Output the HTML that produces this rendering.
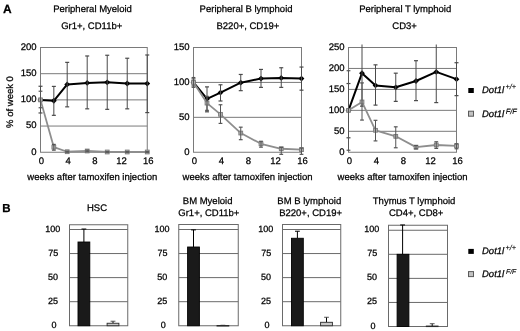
<!DOCTYPE html>
<html><head><meta charset="utf-8"><style>
html,body{margin:0;padding:0;background:#fff;}
svg{display:block;font-family:"Liberation Sans", sans-serif;will-change:transform;text-rendering:geometricPrecision;}
text{stroke:#000;stroke-width:0.25px;}
</style></head><body>
<svg width="520" height="331" viewBox="0 0 520 331">
<rect width="520" height="331" fill="#fff"/>
<text x="3" y="13.4" font-size="12" text-anchor="start" font-weight="bold" font-style="normal" fill="#000" >A</text>
<text x="2.3" y="212.2" font-size="11.5" text-anchor="start" font-weight="bold" font-style="normal" fill="#000" >B</text>
<text x="0" y="0" font-size="9.5" text-anchor="middle" transform="translate(12.8,102) rotate(-90)">% of week 0</text>
<text x="53.2" y="12.3" font-size="9.5" text-anchor="start" font-weight="normal" font-style="normal" fill="#000" >Peripheral Myeloid</text>
<text x="61.2" y="29.2" font-size="9.5" text-anchor="start" font-weight="normal" font-style="normal" fill="#000" >Gr1+, CD11b+</text>
<line x1="40.5" y1="126.06" x2="147.25" y2="126.06" stroke="#7a7a7a" stroke-width="1" />
<line x1="40.5" y1="99.88" x2="147.25" y2="99.88" stroke="#7a7a7a" stroke-width="1" />
<line x1="40.5" y1="73.69" x2="147.25" y2="73.69" stroke="#7a7a7a" stroke-width="1" />
<rect x="40.5" y="47.5" width="106.75" height="104.75" fill="none" stroke="#7a7a7a" stroke-width="1"/>
<text x="36.5" y="154.55" font-size="9.5" text-anchor="end" font-weight="normal" font-style="normal" fill="#000" >0</text>
<text x="36.5" y="128.36" font-size="9.5" text-anchor="end" font-weight="normal" font-style="normal" fill="#000" >50</text>
<text x="36.5" y="102.17" font-size="9.5" text-anchor="end" font-weight="normal" font-style="normal" fill="#000" >100</text>
<text x="36.5" y="75.99" font-size="9.5" text-anchor="end" font-weight="normal" font-style="normal" fill="#000" >150</text>
<text x="36.5" y="49.8" font-size="9.5" text-anchor="end" font-weight="normal" font-style="normal" fill="#000" >200</text>
<text x="41.5" y="163.6" font-size="9.5" text-anchor="middle" font-weight="normal" font-style="normal" fill="#000" >0</text>
<text x="68.19" y="163.6" font-size="9.5" text-anchor="middle" font-weight="normal" font-style="normal" fill="#000" >4</text>
<text x="94.88" y="163.6" font-size="9.5" text-anchor="middle" font-weight="normal" font-style="normal" fill="#000" >8</text>
<text x="121.56" y="163.6" font-size="9.5" text-anchor="middle" font-weight="normal" font-style="normal" fill="#000" >12</text>
<text x="148.25" y="163.6" font-size="9.5" text-anchor="middle" font-weight="normal" font-style="normal" fill="#000" >16</text>
<text x="27.3" y="180" font-size="9.5" text-anchor="start" font-weight="normal" font-style="normal" fill="#000" >weeks after tamoxifen injection</text>
<polyline points="40.5,99.88 53.84,100.77 67.19,84.42 87.2,82.91 107.22,82.33 127.23,83.48 147.25,83.53" fill="none" stroke="#000" stroke-width="2" stroke-linejoin="round"/>
<path d="M40.5,96.97 L43.4,99.88 L40.5,102.78 L37.6,99.88Z" fill="#000"/>
<path d="M53.84,97.87 L56.74,100.77 L53.84,103.67 L50.94,100.77Z" fill="#000"/>
<path d="M67.19,81.52 L70.09,84.42 L67.19,87.32 L64.29,84.42Z" fill="#000"/>
<path d="M87.2,80.01 L90.1,82.91 L87.2,85.81 L84.3,82.91Z" fill="#000"/>
<path d="M107.22,79.43 L110.12,82.33 L107.22,85.23 L104.32,82.33Z" fill="#000"/>
<path d="M127.23,80.58 L130.13,83.48 L127.23,86.38 L124.33,83.48Z" fill="#000"/>
<path d="M147.25,80.63 L150.15,83.53 L147.25,86.43 L144.35,83.53Z" fill="#000"/>
<line x1="40.5" y1="86.26" x2="40.5" y2="112.97" stroke="#4a4a4a" stroke-width="1" />
<line x1="38.5" y1="86.26" x2="42.5" y2="86.26" stroke="#4a4a4a" stroke-width="1.2" />
<line x1="38.5" y1="112.97" x2="42.5" y2="112.97" stroke="#4a4a4a" stroke-width="1.2" />
<line x1="53.84" y1="86.41" x2="53.84" y2="115.33" stroke="#4a4a4a" stroke-width="1" />
<line x1="51.84" y1="86.41" x2="55.84" y2="86.41" stroke="#4a4a4a" stroke-width="1.2" />
<line x1="51.84" y1="115.33" x2="55.84" y2="115.33" stroke="#4a4a4a" stroke-width="1.2" />
<line x1="67.19" y1="62.37" x2="67.19" y2="106.84" stroke="#4a4a4a" stroke-width="1" />
<line x1="65.19" y1="62.37" x2="69.19" y2="62.37" stroke="#4a4a4a" stroke-width="1.2" />
<line x1="65.19" y1="106.84" x2="69.19" y2="106.84" stroke="#4a4a4a" stroke-width="1.2" />
<line x1="87.2" y1="55.98" x2="87.2" y2="108.83" stroke="#4a4a4a" stroke-width="1" />
<line x1="85.2" y1="55.98" x2="89.2" y2="55.98" stroke="#4a4a4a" stroke-width="1.2" />
<line x1="85.2" y1="108.83" x2="89.2" y2="108.83" stroke="#4a4a4a" stroke-width="1.2" />
<line x1="107.22" y1="55.25" x2="107.22" y2="109.35" stroke="#4a4a4a" stroke-width="1" />
<line x1="105.22" y1="55.25" x2="109.22" y2="55.25" stroke="#4a4a4a" stroke-width="1.2" />
<line x1="105.22" y1="109.35" x2="109.22" y2="109.35" stroke="#4a4a4a" stroke-width="1.2" />
<line x1="127.23" y1="58.24" x2="127.23" y2="108.83" stroke="#4a4a4a" stroke-width="1" />
<line x1="125.23" y1="58.24" x2="129.23" y2="58.24" stroke="#4a4a4a" stroke-width="1.2" />
<line x1="125.23" y1="108.83" x2="129.23" y2="108.83" stroke="#4a4a4a" stroke-width="1.2" />
<line x1="147.25" y1="54.99" x2="147.25" y2="112.6" stroke="#4a4a4a" stroke-width="1" />
<line x1="145.25" y1="54.99" x2="149.25" y2="54.99" stroke="#4a4a4a" stroke-width="1.2" />
<line x1="145.25" y1="112.6" x2="149.25" y2="112.6" stroke="#4a4a4a" stroke-width="1.2" />
<polyline points="40.5,99.88 53.84,147.17 67.19,151.73 87.2,150.99 107.22,151.99 127.23,151.99 147.25,151.99" fill="none" stroke="#8e8e8e" stroke-width="1.8" stroke-linejoin="round"/>
<rect x="38.6" y="97.97" width="3.8" height="3.8" fill="#b0b0b0" stroke="#7a7a7a" stroke-width="0.9"/>
<rect x="51.94" y="145.27" width="3.8" height="3.8" fill="#b0b0b0" stroke="#7a7a7a" stroke-width="0.9"/>
<rect x="65.29" y="149.83" width="3.8" height="3.8" fill="#b0b0b0" stroke="#7a7a7a" stroke-width="0.9"/>
<rect x="85.3" y="149.09" width="3.8" height="3.8" fill="#b0b0b0" stroke="#7a7a7a" stroke-width="0.9"/>
<rect x="105.32" y="150.09" width="3.8" height="3.8" fill="#b0b0b0" stroke="#7a7a7a" stroke-width="0.9"/>
<rect x="125.33" y="150.09" width="3.8" height="3.8" fill="#b0b0b0" stroke="#7a7a7a" stroke-width="0.9"/>
<rect x="145.35" y="150.09" width="3.8" height="3.8" fill="#b0b0b0" stroke="#7a7a7a" stroke-width="0.9"/>
<line x1="40.5" y1="91.23" x2="40.5" y2="107.73" stroke="#555" stroke-width="1" />
<line x1="38.6" y1="91.23" x2="42.4" y2="91.23" stroke="#555" stroke-width="1.2" />
<line x1="38.6" y1="107.73" x2="42.4" y2="107.73" stroke="#555" stroke-width="1.2" />
<line x1="53.84" y1="144.39" x2="53.84" y2="150.16" stroke="#555" stroke-width="1" />
<line x1="51.94" y1="144.39" x2="55.74" y2="144.39" stroke="#555" stroke-width="1.2" />
<line x1="51.94" y1="150.16" x2="55.74" y2="150.16" stroke="#555" stroke-width="1.2" />
<line x1="67.19" y1="151.2" x2="67.19" y2="152.25" stroke="#555" stroke-width="1" />
<line x1="65.29" y1="151.2" x2="69.09" y2="151.2" stroke="#555" stroke-width="1.2" />
<line x1="65.29" y1="152.25" x2="69.09" y2="152.25" stroke="#555" stroke-width="1.2" />
<line x1="87.2" y1="150.16" x2="87.2" y2="151.73" stroke="#555" stroke-width="1" />
<line x1="85.3" y1="150.16" x2="89.1" y2="150.16" stroke="#555" stroke-width="1.2" />
<line x1="85.3" y1="151.73" x2="89.1" y2="151.73" stroke="#555" stroke-width="1.2" />
<line x1="107.22" y1="151.73" x2="107.22" y2="152.25" stroke="#555" stroke-width="1" />
<line x1="105.32" y1="151.73" x2="109.12" y2="151.73" stroke="#555" stroke-width="1.2" />
<line x1="105.32" y1="152.25" x2="109.12" y2="152.25" stroke="#555" stroke-width="1.2" />
<line x1="127.23" y1="151.73" x2="127.23" y2="152.25" stroke="#555" stroke-width="1" />
<line x1="125.33" y1="151.73" x2="129.13" y2="151.73" stroke="#555" stroke-width="1.2" />
<line x1="125.33" y1="152.25" x2="129.13" y2="152.25" stroke="#555" stroke-width="1.2" />
<line x1="147.25" y1="151.73" x2="147.25" y2="152.25" stroke="#555" stroke-width="1" />
<line x1="145.35" y1="151.73" x2="149.15" y2="151.73" stroke="#555" stroke-width="1.2" />
<line x1="145.35" y1="152.25" x2="149.15" y2="152.25" stroke="#555" stroke-width="1.2" />
<text x="199.6" y="12.3" font-size="9.5" text-anchor="start" font-weight="normal" font-style="normal" fill="#000" >Peripheral B lymphoid</text>
<text x="216.5" y="29.2" font-size="9.5" text-anchor="start" font-weight="normal" font-style="normal" fill="#000" >B220+, CD19+</text>
<line x1="193.5" y1="117.33" x2="301.5" y2="117.33" stroke="#7a7a7a" stroke-width="1" />
<line x1="193.5" y1="82.42" x2="301.5" y2="82.42" stroke="#7a7a7a" stroke-width="1" />
<rect x="193.5" y="47.5" width="108" height="104.75" fill="none" stroke="#7a7a7a" stroke-width="1"/>
<text x="189.5" y="154.55" font-size="9.5" text-anchor="end" font-weight="normal" font-style="normal" fill="#000" >0</text>
<text x="189.5" y="119.63" font-size="9.5" text-anchor="end" font-weight="normal" font-style="normal" fill="#000" >50</text>
<text x="189.5" y="84.72" font-size="9.5" text-anchor="end" font-weight="normal" font-style="normal" fill="#000" >100</text>
<text x="189.5" y="49.8" font-size="9.5" text-anchor="end" font-weight="normal" font-style="normal" fill="#000" >150</text>
<text x="194.5" y="163.6" font-size="9.5" text-anchor="middle" font-weight="normal" font-style="normal" fill="#000" >0</text>
<text x="221.5" y="163.6" font-size="9.5" text-anchor="middle" font-weight="normal" font-style="normal" fill="#000" >4</text>
<text x="248.5" y="163.6" font-size="9.5" text-anchor="middle" font-weight="normal" font-style="normal" fill="#000" >8</text>
<text x="275.5" y="163.6" font-size="9.5" text-anchor="middle" font-weight="normal" font-style="normal" fill="#000" >12</text>
<text x="302.5" y="163.6" font-size="9.5" text-anchor="middle" font-weight="normal" font-style="normal" fill="#000" >16</text>
<text x="182.6" y="180" font-size="9.5" text-anchor="start" font-weight="normal" font-style="normal" fill="#000" >weeks after tamoxifen injection</text>
<polyline points="193.5,82.42 207,98.9 220.5,92.61 240.75,82.7 261,78.58 281.25,77.95 301.5,78.58" fill="none" stroke="#000" stroke-width="2" stroke-linejoin="round"/>
<path d="M193.5,79.52 L196.4,82.42 L193.5,85.32 L190.6,82.42Z" fill="#000"/>
<path d="M207,96 L209.9,98.9 L207,101.8 L204.1,98.9Z" fill="#000"/>
<path d="M220.5,89.71 L223.4,92.61 L220.5,95.51 L217.6,92.61Z" fill="#000"/>
<path d="M240.75,79.8 L243.65,82.7 L240.75,85.6 L237.85,82.7Z" fill="#000"/>
<path d="M261,75.68 L263.9,78.58 L261,81.48 L258.1,78.58Z" fill="#000"/>
<path d="M281.25,75.05 L284.15,77.95 L281.25,80.85 L278.35,77.95Z" fill="#000"/>
<path d="M301.5,75.68 L304.4,78.58 L301.5,81.48 L298.6,78.58Z" fill="#000"/>
<line x1="193.5" y1="78.92" x2="193.5" y2="85.91" stroke="#4a4a4a" stroke-width="1" />
<line x1="191.5" y1="78.92" x2="195.5" y2="78.92" stroke="#4a4a4a" stroke-width="1.2" />
<line x1="191.5" y1="85.91" x2="195.5" y2="85.91" stroke="#4a4a4a" stroke-width="1.2" />
<line x1="207" y1="86.89" x2="207" y2="111.82" stroke="#4a4a4a" stroke-width="1" />
<line x1="205" y1="86.89" x2="209" y2="86.89" stroke="#4a4a4a" stroke-width="1.2" />
<line x1="205" y1="111.82" x2="209" y2="111.82" stroke="#4a4a4a" stroke-width="1.2" />
<line x1="220.5" y1="84.79" x2="220.5" y2="100.99" stroke="#4a4a4a" stroke-width="1" />
<line x1="218.5" y1="84.79" x2="222.5" y2="84.79" stroke="#4a4a4a" stroke-width="1.2" />
<line x1="218.5" y1="100.99" x2="222.5" y2="100.99" stroke="#4a4a4a" stroke-width="1.2" />
<line x1="240.75" y1="74.46" x2="240.75" y2="90.66" stroke="#4a4a4a" stroke-width="1" />
<line x1="238.75" y1="74.46" x2="242.75" y2="74.46" stroke="#4a4a4a" stroke-width="1.2" />
<line x1="238.75" y1="90.66" x2="242.75" y2="90.66" stroke="#4a4a4a" stroke-width="1.2" />
<line x1="261" y1="69.43" x2="261" y2="87.37" stroke="#4a4a4a" stroke-width="1" />
<line x1="259" y1="69.43" x2="263" y2="69.43" stroke="#4a4a4a" stroke-width="1.2" />
<line x1="259" y1="87.37" x2="263" y2="87.37" stroke="#4a4a4a" stroke-width="1.2" />
<line x1="281.25" y1="67.75" x2="281.25" y2="87.37" stroke="#4a4a4a" stroke-width="1" />
<line x1="279.25" y1="67.75" x2="283.25" y2="67.75" stroke="#4a4a4a" stroke-width="1.2" />
<line x1="279.25" y1="87.37" x2="283.25" y2="87.37" stroke="#4a4a4a" stroke-width="1.2" />
<line x1="301.5" y1="67.05" x2="301.5" y2="90.17" stroke="#4a4a4a" stroke-width="1" />
<line x1="299.5" y1="67.05" x2="303.5" y2="67.05" stroke="#4a4a4a" stroke-width="1.2" />
<line x1="299.5" y1="90.17" x2="303.5" y2="90.17" stroke="#4a4a4a" stroke-width="1.2" />
<polyline points="193.5,82.42 207,103.09 220.5,114.33 240.75,133.05 261,143.8 281.25,148.76 301.5,149.67" fill="none" stroke="#8e8e8e" stroke-width="1.8" stroke-linejoin="round"/>
<rect x="191.6" y="80.52" width="3.8" height="3.8" fill="#b0b0b0" stroke="#7a7a7a" stroke-width="0.9"/>
<rect x="205.1" y="101.19" width="3.8" height="3.8" fill="#b0b0b0" stroke="#7a7a7a" stroke-width="0.9"/>
<rect x="218.6" y="112.43" width="3.8" height="3.8" fill="#b0b0b0" stroke="#7a7a7a" stroke-width="0.9"/>
<rect x="238.85" y="131.15" width="3.8" height="3.8" fill="#b0b0b0" stroke="#7a7a7a" stroke-width="0.9"/>
<rect x="259.1" y="141.9" width="3.8" height="3.8" fill="#b0b0b0" stroke="#7a7a7a" stroke-width="0.9"/>
<rect x="279.35" y="146.86" width="3.8" height="3.8" fill="#b0b0b0" stroke="#7a7a7a" stroke-width="0.9"/>
<rect x="299.6" y="147.77" width="3.8" height="3.8" fill="#b0b0b0" stroke="#7a7a7a" stroke-width="0.9"/>
<line x1="193.5" y1="77.53" x2="193.5" y2="87.3" stroke="#555" stroke-width="1" />
<line x1="191.6" y1="77.53" x2="195.4" y2="77.53" stroke="#555" stroke-width="1.2" />
<line x1="191.6" y1="87.3" x2="195.4" y2="87.3" stroke="#555" stroke-width="1.2" />
<line x1="207" y1="96.38" x2="207" y2="110.35" stroke="#555" stroke-width="1" />
<line x1="205.1" y1="96.38" x2="208.9" y2="96.38" stroke="#555" stroke-width="1.2" />
<line x1="205.1" y1="110.35" x2="208.9" y2="110.35" stroke="#555" stroke-width="1.2" />
<line x1="220.5" y1="104.76" x2="220.5" y2="123.41" stroke="#555" stroke-width="1" />
<line x1="218.6" y1="104.76" x2="222.4" y2="104.76" stroke="#555" stroke-width="1.2" />
<line x1="218.6" y1="123.41" x2="222.4" y2="123.41" stroke="#555" stroke-width="1.2" />
<line x1="240.75" y1="127.18" x2="240.75" y2="139.68" stroke="#555" stroke-width="1" />
<line x1="238.85" y1="127.18" x2="242.65" y2="127.18" stroke="#555" stroke-width="1.2" />
<line x1="238.85" y1="139.68" x2="242.65" y2="139.68" stroke="#555" stroke-width="1.2" />
<line x1="261" y1="141.29" x2="261" y2="147.15" stroke="#555" stroke-width="1" />
<line x1="259.1" y1="141.29" x2="262.9" y2="141.29" stroke="#555" stroke-width="1.2" />
<line x1="259.1" y1="147.15" x2="262.9" y2="147.15" stroke="#555" stroke-width="1.2" />
<line x1="281.25" y1="147.36" x2="281.25" y2="154.34" stroke="#555" stroke-width="1" />
<line x1="279.35" y1="147.36" x2="283.15" y2="147.36" stroke="#555" stroke-width="1.2" />
<line x1="279.35" y1="154.34" x2="283.15" y2="154.34" stroke="#555" stroke-width="1.2" />
<line x1="301.5" y1="148.06" x2="301.5" y2="154.34" stroke="#555" stroke-width="1" />
<line x1="299.6" y1="148.06" x2="303.4" y2="148.06" stroke="#555" stroke-width="1.2" />
<line x1="299.6" y1="154.34" x2="303.4" y2="154.34" stroke="#555" stroke-width="1.2" />
<text x="359.2" y="12.3" font-size="9.5" text-anchor="start" font-weight="normal" font-style="normal" fill="#000" >Peripheral T lymphoid</text>
<text x="392.3" y="29.2" font-size="9.5" text-anchor="start" font-weight="normal" font-style="normal" fill="#000" >CD3+</text>
<line x1="348.5" y1="131.3" x2="456.5" y2="131.3" stroke="#7a7a7a" stroke-width="1" />
<line x1="348.5" y1="110.35" x2="456.5" y2="110.35" stroke="#7a7a7a" stroke-width="1" />
<line x1="348.5" y1="89.4" x2="456.5" y2="89.4" stroke="#7a7a7a" stroke-width="1" />
<line x1="348.5" y1="68.45" x2="456.5" y2="68.45" stroke="#7a7a7a" stroke-width="1" />
<rect x="348.5" y="47.5" width="108" height="104.75" fill="none" stroke="#7a7a7a" stroke-width="1"/>
<text x="344.5" y="154.55" font-size="9.5" text-anchor="end" font-weight="normal" font-style="normal" fill="#000" >0</text>
<text x="344.5" y="133.6" font-size="9.5" text-anchor="end" font-weight="normal" font-style="normal" fill="#000" >50</text>
<text x="344.5" y="112.65" font-size="9.5" text-anchor="end" font-weight="normal" font-style="normal" fill="#000" >100</text>
<text x="344.5" y="91.7" font-size="9.5" text-anchor="end" font-weight="normal" font-style="normal" fill="#000" >150</text>
<text x="344.5" y="70.75" font-size="9.5" text-anchor="end" font-weight="normal" font-style="normal" fill="#000" >200</text>
<text x="344.5" y="49.8" font-size="9.5" text-anchor="end" font-weight="normal" font-style="normal" fill="#000" >250</text>
<text x="349.5" y="163.6" font-size="9.5" text-anchor="middle" font-weight="normal" font-style="normal" fill="#000" >0</text>
<text x="376.5" y="163.6" font-size="9.5" text-anchor="middle" font-weight="normal" font-style="normal" fill="#000" >4</text>
<text x="403.5" y="163.6" font-size="9.5" text-anchor="middle" font-weight="normal" font-style="normal" fill="#000" >8</text>
<text x="430.5" y="163.6" font-size="9.5" text-anchor="middle" font-weight="normal" font-style="normal" fill="#000" >12</text>
<text x="457.5" y="163.6" font-size="9.5" text-anchor="middle" font-weight="normal" font-style="normal" fill="#000" >16</text>
<text x="337.6" y="180" font-size="9.5" text-anchor="start" font-weight="normal" font-style="normal" fill="#000" >weeks after tamoxifen injection</text>
<polyline points="348.5,110.35 362,73.18 375.5,85.42 395.75,87.31 416,81.02 436.25,71.93 456.5,79.18" fill="none" stroke="#000" stroke-width="2" stroke-linejoin="round"/>
<path d="M348.5,107.45 L351.4,110.35 L348.5,113.25 L345.6,110.35Z" fill="#000"/>
<path d="M362,70.28 L364.9,73.18 L362,76.08 L359.1,73.18Z" fill="#000"/>
<path d="M375.5,82.52 L378.4,85.42 L375.5,88.32 L372.6,85.42Z" fill="#000"/>
<path d="M395.75,84.41 L398.65,87.31 L395.75,90.21 L392.85,87.31Z" fill="#000"/>
<path d="M416,78.12 L418.9,81.02 L416,83.92 L413.1,81.02Z" fill="#000"/>
<path d="M436.25,69.03 L439.15,71.93 L436.25,74.83 L433.35,71.93Z" fill="#000"/>
<path d="M456.5,76.28 L459.4,79.18 L456.5,82.08 L453.6,79.18Z" fill="#000"/>
<line x1="348.5" y1="83.53" x2="348.5" y2="137.79" stroke="#4a4a4a" stroke-width="1" />
<line x1="346.5" y1="83.53" x2="350.5" y2="83.53" stroke="#4a4a4a" stroke-width="1.2" />
<line x1="346.5" y1="137.79" x2="350.5" y2="137.79" stroke="#4a4a4a" stroke-width="1.2" />
<line x1="362" y1="44.5" x2="362" y2="106.16" stroke="#4a4a4a" stroke-width="1" />
<line x1="360" y1="106.16" x2="364" y2="106.16" stroke="#4a4a4a" stroke-width="1.2" />
<line x1="375.5" y1="64.85" x2="375.5" y2="105.11" stroke="#4a4a4a" stroke-width="1" />
<line x1="373.5" y1="64.85" x2="377.5" y2="64.85" stroke="#4a4a4a" stroke-width="1.2" />
<line x1="373.5" y1="105.11" x2="377.5" y2="105.11" stroke="#4a4a4a" stroke-width="1.2" />
<line x1="395.75" y1="73.18" x2="395.75" y2="101.38" stroke="#4a4a4a" stroke-width="1" />
<line x1="393.75" y1="73.18" x2="397.75" y2="73.18" stroke="#4a4a4a" stroke-width="1.2" />
<line x1="393.75" y1="101.38" x2="397.75" y2="101.38" stroke="#4a4a4a" stroke-width="1.2" />
<line x1="416" y1="60.7" x2="416" y2="100.63" stroke="#4a4a4a" stroke-width="1" />
<line x1="414" y1="60.7" x2="418" y2="60.7" stroke="#4a4a4a" stroke-width="1.2" />
<line x1="414" y1="100.63" x2="418" y2="100.63" stroke="#4a4a4a" stroke-width="1.2" />
<line x1="436.25" y1="44.5" x2="436.25" y2="102.6" stroke="#4a4a4a" stroke-width="1" />
<line x1="434.25" y1="102.6" x2="438.25" y2="102.6" stroke="#4a4a4a" stroke-width="1.2" />
<line x1="456.5" y1="62.71" x2="456.5" y2="95.64" stroke="#4a4a4a" stroke-width="1" />
<line x1="454.5" y1="62.71" x2="458.5" y2="62.71" stroke="#4a4a4a" stroke-width="1.2" />
<line x1="454.5" y1="95.64" x2="458.5" y2="95.64" stroke="#4a4a4a" stroke-width="1.2" />
<polyline points="348.5,110.35 362,101.97 375.5,130.29 395.75,136.33 416,147.14 436.25,145 456.5,145.88" fill="none" stroke="#8e8e8e" stroke-width="1.8" stroke-linejoin="round"/>
<rect x="346.6" y="108.45" width="3.8" height="3.8" fill="#b0b0b0" stroke="#7a7a7a" stroke-width="0.9"/>
<rect x="360.1" y="100.07" width="3.8" height="3.8" fill="#b0b0b0" stroke="#7a7a7a" stroke-width="0.9"/>
<rect x="373.6" y="128.39" width="3.8" height="3.8" fill="#b0b0b0" stroke="#7a7a7a" stroke-width="0.9"/>
<rect x="393.85" y="134.43" width="3.8" height="3.8" fill="#b0b0b0" stroke="#7a7a7a" stroke-width="0.9"/>
<rect x="414.1" y="145.24" width="3.8" height="3.8" fill="#b0b0b0" stroke="#7a7a7a" stroke-width="0.9"/>
<rect x="434.35" y="143.1" width="3.8" height="3.8" fill="#b0b0b0" stroke="#7a7a7a" stroke-width="0.9"/>
<rect x="454.6" y="143.98" width="3.8" height="3.8" fill="#b0b0b0" stroke="#7a7a7a" stroke-width="0.9"/>
<line x1="348.5" y1="70.71" x2="348.5" y2="150.24" stroke="#555" stroke-width="1" />
<line x1="346.6" y1="70.71" x2="350.4" y2="70.71" stroke="#555" stroke-width="1.2" />
<line x1="346.6" y1="150.24" x2="350.4" y2="150.24" stroke="#555" stroke-width="1.2" />
<line x1="362" y1="82.91" x2="362" y2="120.07" stroke="#555" stroke-width="1" />
<line x1="360.1" y1="82.91" x2="363.9" y2="82.91" stroke="#555" stroke-width="1.2" />
<line x1="360.1" y1="120.07" x2="363.9" y2="120.07" stroke="#555" stroke-width="1.2" />
<line x1="375.5" y1="120.32" x2="375.5" y2="140.9" stroke="#555" stroke-width="1" />
<line x1="373.6" y1="120.32" x2="377.4" y2="120.32" stroke="#555" stroke-width="1.2" />
<line x1="373.6" y1="140.9" x2="377.4" y2="140.9" stroke="#555" stroke-width="1.2" />
<line x1="395.75" y1="126.82" x2="395.75" y2="147.77" stroke="#555" stroke-width="1" />
<line x1="393.85" y1="126.82" x2="397.65" y2="126.82" stroke="#555" stroke-width="1.2" />
<line x1="393.85" y1="147.77" x2="397.65" y2="147.77" stroke="#555" stroke-width="1.2" />
<line x1="416" y1="145.55" x2="416" y2="148.9" stroke="#555" stroke-width="1" />
<line x1="414.1" y1="145.55" x2="417.9" y2="145.55" stroke="#555" stroke-width="1.2" />
<line x1="414.1" y1="148.9" x2="417.9" y2="148.9" stroke="#555" stroke-width="1.2" />
<line x1="436.25" y1="141.78" x2="436.25" y2="148.4" stroke="#555" stroke-width="1" />
<line x1="434.35" y1="141.78" x2="438.15" y2="141.78" stroke="#555" stroke-width="1.2" />
<line x1="434.35" y1="148.4" x2="438.15" y2="148.4" stroke="#555" stroke-width="1.2" />
<line x1="456.5" y1="143.79" x2="456.5" y2="148.77" stroke="#555" stroke-width="1" />
<line x1="454.6" y1="143.79" x2="458.4" y2="143.79" stroke="#555" stroke-width="1.2" />
<line x1="454.6" y1="148.77" x2="458.4" y2="148.77" stroke="#555" stroke-width="1.2" />
<rect x="468.3" y="88" width="5.5" height="5" fill="#000"/>
<text x="482" y="92.7" font-size="9.5" font-style="italic">Dot1l<tspan font-size="7.3" dx="1.4" dy="-3.8" style="stroke-width:0.1px">+/+</tspan></text>
<rect x="468.5" y="111.2" width="5" height="5" fill="#c2c2c2" stroke="#5a5a5a" stroke-width="1"/>
<text x="482" y="116.6" font-size="9.5" font-style="italic">Dot1l<tspan font-size="7.5" dx="1.5" dy="-3.0" style="stroke-width:0.1px">F/F</tspan></text>
<text x="87" y="211.1" font-size="9.5" text-anchor="start" font-weight="normal" font-style="normal" fill="#000" >HSC</text>
<line x1="69.5" y1="301.69" x2="127.75" y2="301.69" stroke="#6a6a6a" stroke-width="1" />
<line x1="69.5" y1="277.62" x2="127.75" y2="277.62" stroke="#6a6a6a" stroke-width="1" />
<line x1="69.5" y1="253.56" x2="127.75" y2="253.56" stroke="#6a6a6a" stroke-width="1" />
<line x1="69.5" y1="229.5" x2="127.75" y2="229.5" stroke="#6a6a6a" stroke-width="1" />
<rect x="69.5" y="224.75" width="58.25" height="101" fill="none" stroke="#6a6a6a" stroke-width="1"/>
<text x="54.1" y="327.75" font-size="9" text-anchor="middle" font-weight="normal" font-style="normal" fill="#000" >0</text>
<text x="53.05" y="303.69" font-size="9" text-anchor="middle" font-weight="normal" font-style="normal" fill="#000" >25</text>
<text x="53.05" y="279.62" font-size="9" text-anchor="middle" font-weight="normal" font-style="normal" fill="#000" >50</text>
<text x="53.2" y="255.56" font-size="9" text-anchor="middle" font-weight="normal" font-style="normal" fill="#000" >75</text>
<text x="52.75" y="231.5" font-size="9" text-anchor="middle" font-weight="normal" font-style="normal" fill="#000" >100</text>
<line x1="83.9" y1="242.01" x2="83.9" y2="229.02" stroke="#000" stroke-width="1" />
<line x1="81.5" y1="229.02" x2="86.3" y2="229.02" stroke="#000" stroke-width="1.0" />
<rect x="78" y="242.01" width="11.8" height="83.74" fill="#1a1a1a" stroke="#000" stroke-width="0.9"/>
<line x1="113" y1="323.25" x2="113" y2="321.23" stroke="#000" stroke-width="1" />
<line x1="110.6" y1="321.23" x2="115.4" y2="321.23" stroke="#444" stroke-width="0.9" />
<rect x="107.1" y="323.25" width="11.8" height="2.5" fill="#c8c8c8" stroke="#2a2a2a" stroke-width="0.9"/>
<text x="182.8" y="203.7" font-size="9.5" text-anchor="start" font-weight="normal" font-style="normal" fill="#000" >BM Myeloid</text>
<text x="178.3" y="215.7" font-size="9.5" text-anchor="start" font-weight="normal" font-style="normal" fill="#000" >Gr1+, CD11b+</text>
<line x1="178.75" y1="301.69" x2="238.25" y2="301.69" stroke="#6a6a6a" stroke-width="1" />
<line x1="178.75" y1="277.62" x2="238.25" y2="277.62" stroke="#6a6a6a" stroke-width="1" />
<line x1="178.75" y1="253.56" x2="238.25" y2="253.56" stroke="#6a6a6a" stroke-width="1" />
<line x1="178.75" y1="229.5" x2="238.25" y2="229.5" stroke="#6a6a6a" stroke-width="1" />
<rect x="178.75" y="224.5" width="59.5" height="101.25" fill="none" stroke="#6a6a6a" stroke-width="1"/>
<text x="163.35" y="327.75" font-size="9" text-anchor="middle" font-weight="normal" font-style="normal" fill="#000" >0</text>
<text x="162.3" y="303.69" font-size="9" text-anchor="middle" font-weight="normal" font-style="normal" fill="#000" >25</text>
<text x="162.3" y="279.62" font-size="9" text-anchor="middle" font-weight="normal" font-style="normal" fill="#000" >50</text>
<text x="162.45" y="255.56" font-size="9" text-anchor="middle" font-weight="normal" font-style="normal" fill="#000" >75</text>
<text x="162" y="231.5" font-size="9" text-anchor="middle" font-weight="normal" font-style="normal" fill="#000" >100</text>
<line x1="193.5" y1="247.02" x2="193.5" y2="229.88" stroke="#000" stroke-width="1" />
<line x1="191.1" y1="229.88" x2="195.9" y2="229.88" stroke="#000" stroke-width="1.0" />
<rect x="187.6" y="247.02" width="11.8" height="78.73" fill="#1a1a1a" stroke="#000" stroke-width="0.9"/>
<line x1="222.9" y1="325.46" x2="222.9" y2="325.27" stroke="#000" stroke-width="1" />
<line x1="220.5" y1="325.27" x2="225.3" y2="325.27" stroke="#444" stroke-width="0.9" />
<rect x="217" y="325.46" width="11.8" height="0.6" fill="#c8c8c8" stroke="#2a2a2a" stroke-width="0.9"/>
<text x="277.3" y="203.7" font-size="9.5" text-anchor="start" font-weight="normal" font-style="normal" fill="#000" >BM B lymphoid</text>
<text x="279.2" y="215.7" font-size="9.5" text-anchor="start" font-weight="normal" font-style="normal" fill="#000" >B220+, CD19+</text>
<line x1="282.5" y1="301.69" x2="340.75" y2="301.69" stroke="#6a6a6a" stroke-width="1" />
<line x1="282.5" y1="277.62" x2="340.75" y2="277.62" stroke="#6a6a6a" stroke-width="1" />
<line x1="282.5" y1="253.56" x2="340.75" y2="253.56" stroke="#6a6a6a" stroke-width="1" />
<line x1="282.5" y1="229.5" x2="340.75" y2="229.5" stroke="#6a6a6a" stroke-width="1" />
<rect x="282.5" y="224.5" width="58.25" height="101.25" fill="none" stroke="#6a6a6a" stroke-width="1"/>
<text x="267.1" y="327.75" font-size="9" text-anchor="middle" font-weight="normal" font-style="normal" fill="#000" >0</text>
<text x="266.05" y="303.69" font-size="9" text-anchor="middle" font-weight="normal" font-style="normal" fill="#000" >25</text>
<text x="266.05" y="279.62" font-size="9" text-anchor="middle" font-weight="normal" font-style="normal" fill="#000" >50</text>
<text x="266.2" y="255.56" font-size="9" text-anchor="middle" font-weight="normal" font-style="normal" fill="#000" >75</text>
<text x="265.75" y="231.5" font-size="9" text-anchor="middle" font-weight="normal" font-style="normal" fill="#000" >100</text>
<line x1="297.4" y1="238.26" x2="297.4" y2="231.23" stroke="#000" stroke-width="1" />
<line x1="295" y1="231.23" x2="299.8" y2="231.23" stroke="#000" stroke-width="1.0" />
<rect x="291.5" y="238.26" width="11.8" height="87.49" fill="#1a1a1a" stroke="#000" stroke-width="0.9"/>
<line x1="326.5" y1="322.29" x2="326.5" y2="317.28" stroke="#000" stroke-width="1" />
<line x1="324.1" y1="317.28" x2="328.9" y2="317.28" stroke="#444" stroke-width="0.9" />
<rect x="320.6" y="322.29" width="11.8" height="3.47" fill="#c8c8c8" stroke="#2a2a2a" stroke-width="0.9"/>
<text x="372.8" y="203.7" font-size="9.5" text-anchor="start" font-weight="normal" font-style="normal" fill="#000" >Thymus T lymphoid</text>
<text x="389" y="215.7" font-size="9.5" text-anchor="start" font-weight="normal" font-style="normal" fill="#000" >CD4+, CD8+</text>
<line x1="388.5" y1="302.44" x2="447.5" y2="302.44" stroke="#6a6a6a" stroke-width="1" />
<line x1="388.5" y1="278.38" x2="447.5" y2="278.38" stroke="#6a6a6a" stroke-width="1" />
<line x1="388.5" y1="254.31" x2="447.5" y2="254.31" stroke="#6a6a6a" stroke-width="1" />
<line x1="388.5" y1="230.25" x2="447.5" y2="230.25" stroke="#6a6a6a" stroke-width="1" />
<rect x="388.5" y="225.25" width="59" height="101.25" fill="none" stroke="#6a6a6a" stroke-width="1"/>
<text x="373.1" y="328.5" font-size="9" text-anchor="middle" font-weight="normal" font-style="normal" fill="#000" >0</text>
<text x="372.05" y="304.44" font-size="9" text-anchor="middle" font-weight="normal" font-style="normal" fill="#000" >25</text>
<text x="372.05" y="280.38" font-size="9" text-anchor="middle" font-weight="normal" font-style="normal" fill="#000" >50</text>
<text x="372.2" y="256.31" font-size="9" text-anchor="middle" font-weight="normal" font-style="normal" fill="#000" >75</text>
<text x="371.75" y="232.25" font-size="9" text-anchor="middle" font-weight="normal" font-style="normal" fill="#000" >100</text>
<line x1="402.6" y1="254.31" x2="402.6" y2="224.96" stroke="#000" stroke-width="1" />
<line x1="400.2" y1="224.96" x2="405" y2="224.96" stroke="#000" stroke-width="1.0" />
<rect x="397.1" y="254.31" width="11.8" height="72.19" fill="#1a1a1a" stroke="#000" stroke-width="0.9"/>
<line x1="432.2" y1="326.02" x2="432.2" y2="323.71" stroke="#000" stroke-width="1" />
<line x1="429.8" y1="323.71" x2="434.6" y2="323.71" stroke="#444" stroke-width="0.9" />
<rect x="426.3" y="326.02" width="11.8" height="0.6" fill="#c8c8c8" stroke="#2a2a2a" stroke-width="0.9"/>
<rect x="468.3" y="248.9" width="5.5" height="5" fill="#000"/>
<text x="482" y="253.6" font-size="9.5" font-style="italic">Dot1l<tspan font-size="7.3" dx="1.4" dy="-3.8" style="stroke-width:0.1px">+/+</tspan></text>
<rect x="468.5" y="271.6" width="5" height="5" fill="#c2c2c2" stroke="#5a5a5a" stroke-width="1"/>
<text x="482" y="277" font-size="9.5" font-style="italic">Dot1l<tspan font-size="6.8" dx="1.9" dy="-2.8" style="stroke-width:0.1px">F/F</tspan></text>
</svg>
</body></html>
